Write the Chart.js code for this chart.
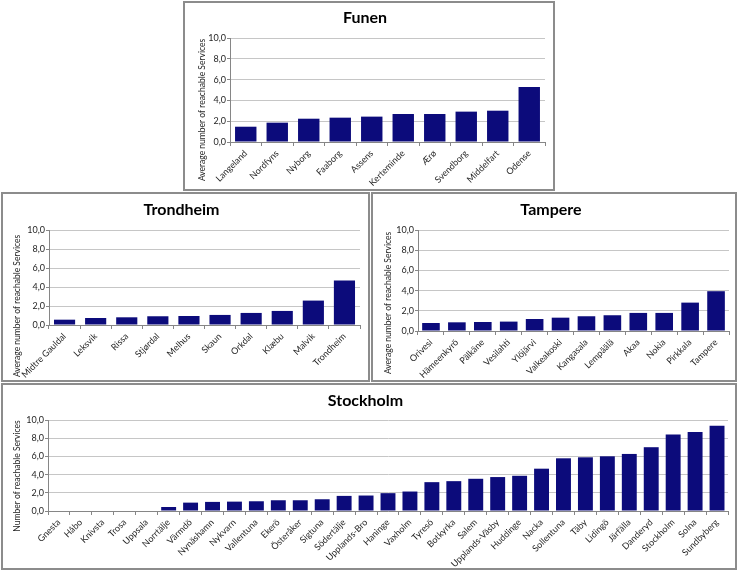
<!DOCTYPE html>
<html>
<head>
<meta charset="utf-8">
<script src="https://cdn.jsdelivr.net/npm/chart.js@4.4.0/dist/chart.umd.min.js"></script>
<style>
body{margin:0;background:#fff;width:739px;height:571px;position:relative;overflow:hidden;font-family:Lato,sans-serif}
.box{position:absolute;border:2px solid #8c8c8c;box-sizing:border-box;background:#fff}
.box div{position:absolute;left:0;top:0}
</style>
</head>
<body>
<div class="box" style="left:183px;top:1px;width:372px;height:190px"><div style="width:368px;height:186px"><canvas id="funen"></canvas></div></div>
<div class="box" style="left:1px;top:192px;width:369px;height:190px"><div style="width:365px;height:186px"><canvas id="trondheim"></canvas></div></div>
<div class="box" style="left:371px;top:192px;width:366px;height:190px"><div style="width:362px;height:186px"><canvas id="tampere"></canvas></div></div>
<div class="box" style="left:1px;top:383px;width:736px;height:187px"><div style="width:732px;height:183px"><canvas id="stockholm"></canvas></div></div>
<script>
// values
const yTicks = [0, 2, 4, 6, 8, 10];

const funenCities = ['Langeland','Nordfyns','Nyborg','Faaborg','Assens','Kerteminde','Ærø','Svendborg','Middelfart','Odense'];
const funenValues = [1.47,1.86,2.24,2.34,2.44,2.69,2.69,2.92,3.01,5.29];

const trondheimCities = ['Midtre Gauldal','Leksvik','Rissa','Stjørdal','Melhus','Skaun','Orkdal','Klæbu','Malvik','Trondheim'];
const trondheimValues = [0.56,0.74,0.81,0.92,0.95,1.06,1.27,1.48,2.57,4.68];

const tampereCities = ['Orivesi','Hämeenkyrö','Pälkäne','Vesilahti','Ylöjärvi','Valkeakoski','Kangasala','Lempäälä','Akaa','Nokia','Pirkkala','Tampere'];
const tampereValues = [0.79,0.86,0.89,0.93,1.19,1.32,1.46,1.56,1.79,1.79,2.81,3.94];

const stockholmCities = ['Gnesta','Håbo','Knivsta','Trosa','Uppsala','Norrtälje','Värmdö','Nynäshamn','Nykvarn','Vallentuna',
  'Ekerö','Österåker','Sigtuna','Södertälje','Upplands-Bro','Haninge','Vaxholm','Tyresö','Botkyrka','Salem',
  'Upplands-Väsby','Huddinge','Nacka','Sollentuna','Täby','Lidingö','Järfälla','Danderyd','Stockholm','Solna','Sundbyberg'];
const stockholmValues = [0,0,0,0,0,0.44,0.92,1.0,1.03,1.07,
  1.18,1.18,1.29,1.66,1.70,1.96,2.14,3.17,3.28,3.54,
  3.73,3.87,4.65,5.79,5.90,6.01,6.27,7.01,8.41,8.67,9.37];

const avgTitle = 'Average number of reachable Services';
const numTitle = 'Number of reachable Services';

Chart.defaults.font.family = 'Lato, sans-serif';
Chart.defaults.color = '#262626';

// draws the rotated y axis title where excel put it
const yTitlePlugin = {
  id: 'yTitle',
  afterDraw(chart, args, opts) {
    const ctx = chart.ctx;
    ctx.save();
    ctx.translate(opts.x, opts.y);
    ctx.rotate(-Math.PI / 2);
    ctx.font = '8.5px Lato, sans-serif';
    ctx.fillStyle = '#262626';
    ctx.textAlign = 'center';
    ctx.textBaseline = 'middle';
    ctx.fillText(opts.text, 0, 0);
    ctx.restore();
  }
};

function makeChart(id, title, labels, values, yTitle, lay) {
  new Chart(document.getElementById(id), {
    type: 'bar',
    data: {
      labels: labels,
      datasets: [{
        data: values,
        backgroundColor: '#0c0b7b',
        borderWidth: 0,
        barPercentage: 0.85,
        categoryPercentage: 0.8
      }]
    },
    plugins: [yTitlePlugin],
    options: {
      responsive: true,
      maintainAspectRatio: false,
      animation: false,
      layout: {padding: {left: 0, right: lay.right, top: 0, bottom: 0}},
      plugins: {
        legend: {display: false},
        tooltip: {enabled: false},
        title: {
          display: true,
          text: title,
          color: '#000',
          font: {size: 16, weight: 'bold'},
          padding: {top: lay.tTop, bottom: lay.tBottom}
        },
        yTitle: {text: yTitle, x: lay.yx, y: lay.yy}
      },
      scales: {
        x: {
          grid: {display: true, drawOnChartArea: false, offset: true, tickLength: 4, color: '#868686'},
          border: {color: '#868686'},
          ticks: {maxRotation: 45, minRotation: 45, autoSkip: false, padding: 2, font: {size: 9}},
          afterFit(s) { s.height = lay.xh; }
        },
        y: {
          min: 0, max: 10,
          afterBuildTicks(s) { s.ticks = yTicks.map(v => ({value: v})); },
          grid: {color: '#c6c6c6', tickColor: '#868686', tickLength: 3},
          border: {color: '#868686'},
          ticks: {padding: 1, font: {size: 9}, callback: v => v.toFixed(1).replace('.', ',')},
          afterFit(s) { s.width = lay.yw; }
        }
      }
    }
  });
}

makeChart('funen', 'Funen', funenCities, funenValues, avgTitle,
  {right: 8, tTop: 5.4, tBottom: 10.4, xh: 47, yw: 45, yx: 17, yy: 107});
makeChart('trondheim', 'Trondheim', trondheimCities, trondheimValues, avgTitle,
  {right: 8, tTop: 6.4, tBottom: 10.4, xh: 55, yw: 46, yx: 14, yy: 112});
makeChart('tampere', 'Tampere', tampereCities, tampereValues, avgTitle,
  {right: 6, tTop: 6.4, tBottom: 10.4, xh: 49, yw: 45, yx: 15, yy: 109});
makeChart('stockholm', 'Stockholm', stockholmCities, stockholmValues, numTitle,
  {right: 7, tTop: 6.4, tBottom: 9.4, xh: 57, yw: 45, yx: 14, yy: 91});
</script>
</body>
</html>
